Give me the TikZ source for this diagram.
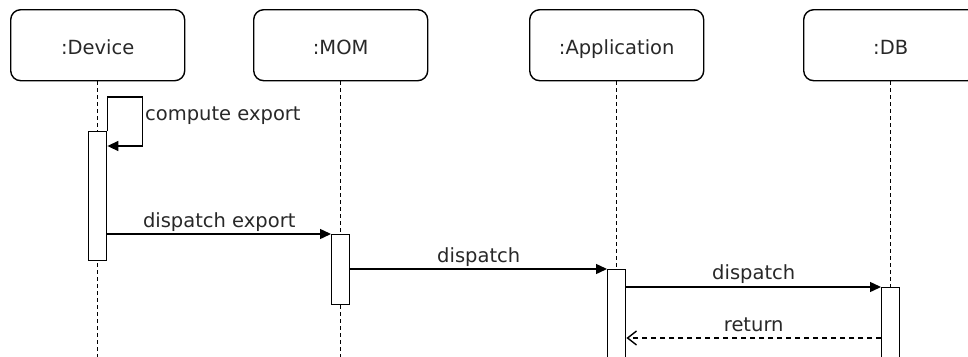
\documentclass[tikz,border=0pt]{standalone}
\usepackage{fontspec}
\setmainfont{DejaVu Sans}
\usetikzlibrary{arrows.meta}
\definecolor{txt}{RGB}{40,40,40}
\begin{document}
\begin{tikzpicture}[x=1pt,y=-1pt,
  head/.style={draw, rounded corners=10pt, line width=1.4pt, minimum width=174pt, minimum height=71pt, inner sep=0pt, text height=18pt, text depth=0pt, anchor=north west, text=txt, font=\fontsize{19.5}{23}\selectfont},
  bar/.style={draw, fill=white, line width=1.4pt, minimum width=18pt, inner sep=0pt, anchor=north},
  life/.style={line width=1.3pt, dash pattern=on 4pt off 3pt},
  msg/.style={line width=1.4pt, -{Triangle[length=11pt,width=10pt]}},
  ret/.style={line width=1.4pt, dash pattern=on 5pt off 4pt, -{Straight Barb[length=9pt,width=14pt]}},
  lbl/.style={text=txt, font=\fontsize{19.5}{23}\selectfont, inner sep=0pt}
]
\useasboundingbox (0,0) rectangle (968,356);
\clip (0,0) rectangle (968,356);
\node[head] (dev) at (10,9) {:Device};
\node[head] (mom) at (253,9) {:MOM};
\node[head] (app) at (529,9) {:Application};
\node[head] (db) at (803,9) {:DB};
\coordinate (devE) at (dev.south |- 0,370);
\coordinate (momE) at (mom.south |- 0,370);
\coordinate (appE) at (app.south |- 0,370);
\coordinate (dbE) at (db.south |- 0,370);
\draw[life] (dev.south) -- (devE);
\draw[life] (mom.south) -- (momE);
\draw[life] (app.south) -- (appE);
\draw[life] (db.south) -- (dbE);
\node[bar, minimum height=129pt] (devbar) at (dev.south |- 0,131) {};
\node[bar, minimum height=70pt] (mombar) at (mom.south |- 0,234) {};
\node[bar, minimum height=100pt] (appbar) at (app.south |- 0,269) {};
\node[bar, minimum height=90pt] (dbbar) at (db.south |- 0,287) {};
\draw[msg] (devbar.north east) -- ++(0,-34) -- ++(35,0) -- ++(0,49) -- (devbar.east |- 0,146);
\node[lbl, anchor=base west] (lce) at (145,120.5) {compute export};
\draw[msg] (devbar.east |- 0,234) -- (mombar.west |- 0,234) node[lbl, midway, anchor=base, yshift=7pt] (l1) {dispatch export};
\draw[msg] (mombar.east |- 0,269) -- (appbar.west |- 0,269) node[lbl, midway, anchor=base, yshift=7pt] (l2) {dispatch};
\draw[msg] (appbar.east |- 0,287) -- (dbbar.west |- 0,287) node[lbl, midway, anchor=base, yshift=8pt] (l3) {dispatch};
\draw[ret] (dbbar.west |- 0,338) -- (appbar.east |- 0,338) node[lbl, midway, anchor=base, yshift=7pt] (l4) {return};
\end{tikzpicture}
\end{document}
